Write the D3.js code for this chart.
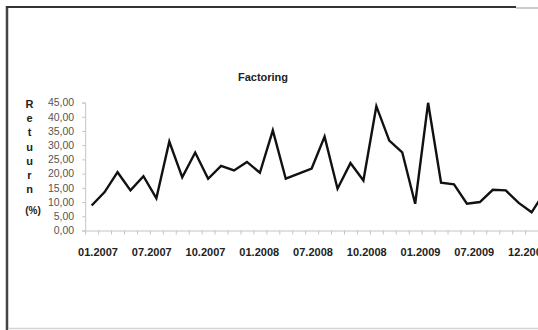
<!DOCTYPE html>
<html>
<head>
<meta charset="utf-8">
<script src="https://cdn.jsdelivr.net/npm/d3@7"></script>
<style>
  body { margin: 0; background: #fff; }
  svg { display: block; }
</style>
</head>
<body>
<div id="chart-wrapper"></div>
<script>
// values, one per period (last one is cut by the frame)
const returns = [8.8, 13.5, 20.5, 14.1, 19.1, 11.3, 31.3, 18.7, 27.4, 18.2,
  22.7, 21.1, 24.1, 20.3, 35.2, 18.2, 20.0, 21.8, 33.0, 14.7,
  23.7, 17.6, 43.7, 31.6, 27.5, 9.4, 44.9, 16.8, 16.2, 9.4,
  10.0, 14.3, 14.1, 9.7, 6.4, 13.5]
const periodLabels = ["01.2007", "07.2007", "10.2007", "01.2008", "07.2008",
  "10.2008", "01.2009", "07.2009", "12.2009"]
const yTicks = [0, 5, 10, 15, 20, 25, 30, 35, 40, 45]
const yTitleLetters = ["R", "e", "t", "u", "u", "r", "n"]

const width = 538
const height = 330

const plot = { left: 85.2, top: 102.5, bottom: 230.5, step: 12.94 }

const locale = d3.formatLocale({ decimal: ",", thousands: ".", grouping: [3], currency: ["", ""] })
const fmt = locale.format(".2f")

const xScale = d3.scaleLinear()
    .domain([0, returns.length])
    .range([plot.left, plot.left + returns.length * plot.step])

const yScale = d3.scaleLinear()
    .domain([0, 45])
    .range([plot.bottom, plot.top])

const labelScale = d3.scalePoint()
    .domain(periodLabels)
    .range([98, 528])

const svg = d3.select("#chart-wrapper")
  .append("svg")
    .attr("width", width)
    .attr("height", height)

svg.append("rect")
    .attr("width", width)
    .attr("height", height)
    .attr("fill", "#fff")

// frame
svg.append("line")
    .attr("x1", 7).attr("x2", 7).attr("y1", 6).attr("y2", 330)
    .attr("stroke", "#444").attr("stroke-width", 2.5)
svg.append("line")
    .attr("x1", 6).attr("x2", 516).attr("y1", 7).attr("y2", 7)
    .attr("stroke", "#333").attr("stroke-width", 2)
svg.append("line")
    .attr("x1", 516).attr("x2", 538).attr("y1", 8).attr("y2", 8)
    .attr("stroke", "#bbb").attr("stroke-width", 1.5)
svg.append("line")
    .attr("x1", 8).attr("x2", 538).attr("y1", 328.5).attr("y2", 328.5)
    .attr("stroke", "#d4d4d4").attr("stroke-width", 1.5)

// title
svg.append("text")
    .attr("x", 263)
    .attr("y", 81)
    .attr("text-anchor", "middle")
    .attr("font-family", "Liberation Sans, Arial, sans-serif")
    .attr("font-weight", "bold")
    .attr("font-size", 11)
    .attr("fill", "#222")
    .text("Factoring")

// y axis
const yAxis = svg.append("g")
    .attr("transform", `translate(${plot.left},0)`)
    .call(d3.axisLeft(yScale).tickValues(yTicks).tickFormat(fmt).tickSize(3).tickPadding(8))
yAxis.select(".domain").attr("stroke", "#c4c4c4")
yAxis.selectAll(".tick line").attr("stroke", "#c4c4c4")
yAxis.selectAll(".tick text")
    .attr("font-family", "Liberation Sans, Arial, sans-serif")
    .attr("font-size", 10.5)
    .attr("fill", "#555")

// x axis
const xAxis = svg.append("g")
    .attr("transform", `translate(0,${plot.bottom})`)
    .call(d3.axisBottom(xScale)
      .tickValues(d3.range(0, returns.length + 1))
      .tickFormat("")
      .tickSize(4)
      .tickSizeOuter(0))
xAxis.select(".domain").attr("stroke", "#c4c4c4")
xAxis.selectAll(".tick line").attr("stroke", "#c4c4c4")

svg.append("g")
  .selectAll("text")
  .data(periodLabels)
  .join("text")
    .attr("x", d => labelScale(d))
    .attr("y", 256)
    .attr("text-anchor", "middle")
    .attr("font-family", "Liberation Sans, Arial, sans-serif")
    .attr("font-weight", "bold")
    .attr("font-size", 11)
    .attr("fill", "#222")
    .text(d => d)

// vertical y title
svg.append("g")
  .selectAll("text")
  .data(yTitleLetters)
  .join("text")
    .attr("x", 29.5)
    .attr("y", (d, i) => 108 + i * 14.2)
    .attr("text-anchor", "middle")
    .attr("font-family", "Liberation Sans, Arial, sans-serif")
    .attr("font-weight", "bold")
    .attr("font-size", 11)
    .attr("fill", "#222")
    .text(d => d)

svg.append("text")
    .attr("x", 33)
    .attr("y", 214)
    .attr("text-anchor", "middle")
    .attr("font-family", "Liberation Sans, Arial, sans-serif")
    .attr("font-weight", "bold")
    .attr("font-size", 10)
    .attr("fill", "#222")
    .text("(%)")

// line
const lineGenerator = d3.line()
    .x((d, i) => xScale(i + 0.5))
    .y(d => yScale(d))

svg.append("path")
    .attr("d", lineGenerator(returns))
    .attr("fill", "none")
    .attr("stroke", "#111")
    .attr("stroke-width", 2.4)
    .attr("stroke-linejoin", "miter")
</script>
</body>
</html>
